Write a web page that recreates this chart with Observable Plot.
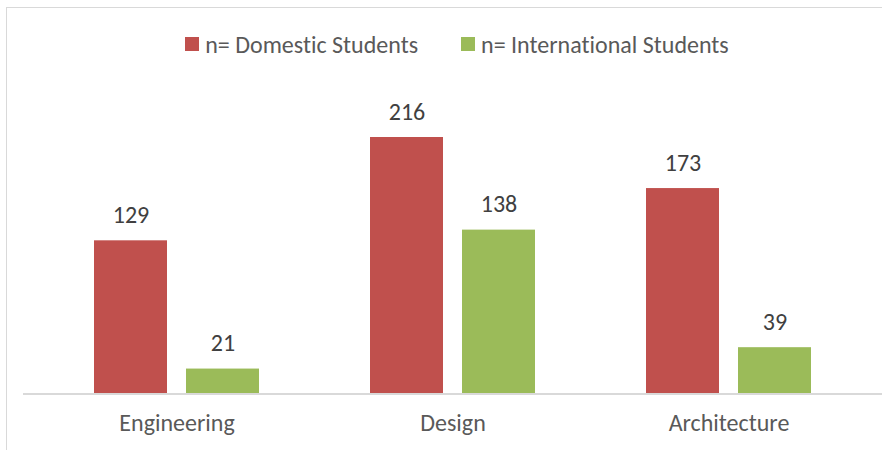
<!DOCTYPE html>
<html>
<head>
<meta charset="utf-8">
<script src="https://cdn.jsdelivr.net/npm/d3@7"></script>
<script src="https://cdn.jsdelivr.net/npm/@observablehq/plot@0.6"></script>
<style>
  html, body { margin: 0; padding: 0; background: #fff; }
  body { width: 882px; height: 450px; overflow: hidden; position: relative;
         font-family: Carlito, "Open Sans", sans-serif; color: #595959;
         font-variant-ligatures: none; }
  #border { position: absolute; left: 6px; top: 7px; width: 920px; height: 480px;
            border: 1px solid #d9d9d9; box-sizing: border-box; pointer-events: none; }
  #legend { position: relative; height: 80px; width: 914px; display: flex; justify-content: center;
            align-items: center; gap: 43px; font-size: 24px; padding-top: 8px; box-sizing: border-box; }
  .item { display: flex; align-items: center; gap: 6px; white-space: nowrap; }
  .sw { width: 14px; height: 14px; display: inline-block; }
  svg { display: block; font-variant-ligatures: none; }
</style>
</head>
<body>
<div id="border"></div>
<div id="legend"></div>
<div id="chart"></div>
<script>
const categories = ["Engineering", "Design", "Architecture"];
const series = ["n= Domestic Students", "n= International Students"];
const domestic = [129, 216, 173];
const international = [21, 138, 39];
const colors = ["#C0504D", "#9BBB59"];

const data = [];
categories.forEach((c, i) => {
  data.push({category: c, series: series[0], value: domestic[i]});
  data.push({category: c, series: series[1], value: international[i]});
});

const legend = document.getElementById("legend");
series.forEach((s, i) => {
  const it = document.createElement("div");
  it.className = "item";
  const sw = document.createElement("span");
  sw.className = "sw";
  sw.style.background = colors[i];
  const t = document.createElement("span");
  t.textContent = s;
  it.appendChild(sw); it.appendChild(t);
  legend.appendChild(it);
});

const chart = Plot.plot({
  width: 882,
  height: 370,
  marginLeft: 23,
  marginRight: 0,
  marginTop: 0,
  marginBottom: 56.5,
  style: {fontFamily: 'Carlito, "Open Sans", sans-serif', color: "#595959", background: "transparent"},
  fx: {domain: categories, paddingInner: 0, paddingOuter: 15.5 / 276, round: false, label: null},
  x: {domain: series, paddingInner: 19 / 92, paddingOuter: 0.6033, round: false, axis: null},
  y: {domain: [0, 216], range: [313.5, 57], axis: null},
  color: {domain: series, range: colors},
  marks: [
    Plot.barY(data, {fx: "category", x: "series", y: "value", fill: "series"}),
    Plot.text(data, {fx: "category", x: "series", y: "value", text: d => String(d.value),
      lineAnchor: "bottom", dy: -18, fontSize: 24, fill: "#404040"}),
    Plot.ruleY([0], {stroke: "#d9d9d9", strokeWidth: 2, insetLeft: -15.5, insetRight: -15.5}),
    Plot.axisFx({anchor: "bottom", tickSize: 0, tickPadding: 20, fontSize: 24, label: null, fill: "#595959"})
  ]
});
document.getElementById("chart").appendChild(chart);
</script>
</body>
</html>
